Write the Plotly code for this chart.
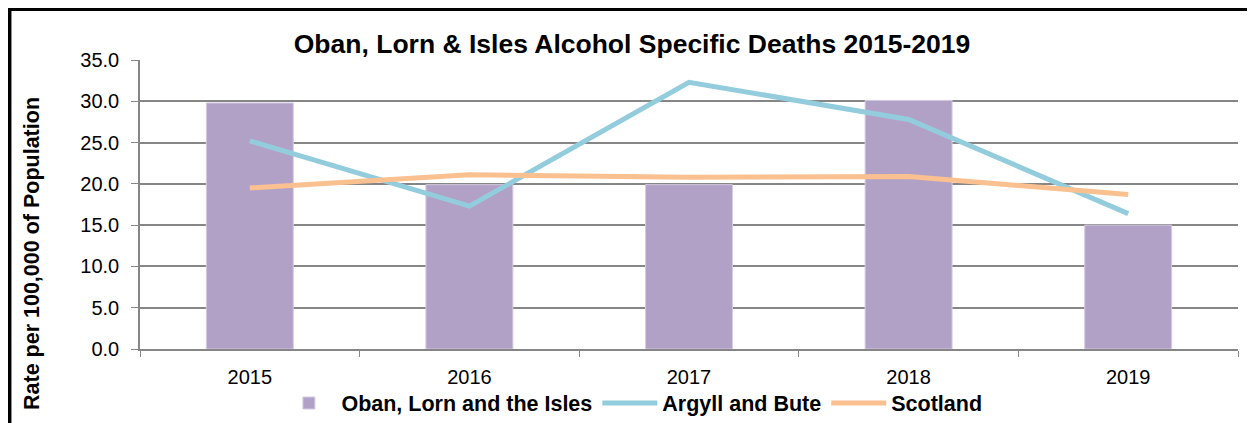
import plotly.graph_objects as go

years = ['2015', '2016', '2017', '2018', '2019']
oban = [29.8, 19.9, 19.9, 30.1, 15.0]
argyll = [25.2, 17.3, 32.3, 27.8, 16.4]
scotland = [19.5, 21.1, 20.8, 20.9, 18.7]

font = 'Liberation Sans, Arial, sans-serif'
grey = '#868686'

fig = go.Figure()

fig.add_trace(go.Bar(x=years, y=oban, name='Oban, Lorn and the Isles',
                     marker=dict(color='#B2A1C7', line=dict(color='#D5CBE3', width=1))))
fig.add_trace(go.Scatter(x=years, y=argyll, name='Argyll and Bute', mode='lines',
                         line=dict(color='#93CDDD', width=5)))
fig.add_trace(go.Scatter(x=years, y=scotland, name='Scotland', mode='lines',
                         line=dict(color='#FAC090', width=5)))

# page body has an 8px margin, so the figure is 8px smaller and shifted
fig.update_layout(
    width=1247, height=415,
    margin=dict(l=132, r=17, t=52, b=74, autoexpand=False),
    paper_bgcolor='white', plot_bgcolor='white',
    font=dict(family=font, size=20, color='black'),
    bargap=0.604,
    title=dict(text='<b>Oban, Lorn & Isles Alcohol Specific Deaths 2015-2019</b>',
               font=dict(size=26.5), x=0.5004, xanchor='center',
               y=1 - 36 / 415, yanchor='middle', yref='container'),
    legend=dict(orientation='h', x=0.448, xanchor='center', y=-0.187, yanchor='middle',
                font=dict(size=21.5, family=font, weight='bold'), traceorder='normal',
                bgcolor='rgba(0,0,0,0)', itemwidth=55),
    showlegend=True,
)

fig.update_yaxes(range=[0, 35], dtick=5, tickformat='.1f', showgrid=True,
                 gridcolor=grey, gridwidth=1.5, showline=True, linecolor=grey, linewidth=1.5,
                 ticks='outside', ticklen=7, tickcolor=grey, ticklabelstandoff=8,
                 zeroline=False)
fig.update_xaxes(showline=True, linecolor=grey, linewidth=1.5, ticks='outside',
                 tickson='boundaries', ticklen=6, tickcolor=grey, showgrid=False,
                 ticklabelstandoff=9)

fig.add_annotation(text='<b>Rate per 100,000 of Population</b>', textangle=-90,
                   xref='paper', yref='paper', x=-0.0984, y=0.332,
                   xanchor='center', yanchor='middle',
                   showarrow=False, font=dict(size=21.5))

# chart frame
fig.add_shape(type='rect', xref='paper', yref='paper',
              x0=-0.1189, y0=-0.3, x1=1.03, y1=1.1765,
              line=dict(color='black', width=4), layer='above')

fig.write_html('out.html')
